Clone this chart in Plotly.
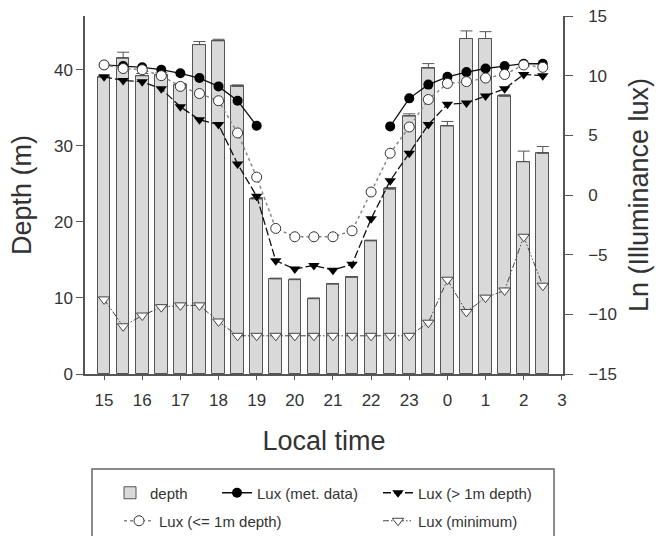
import plotly.graph_objects as go

# ---- data ----
time_h = [15, 15.5, 16, 16.5, 17, 17.5, 18, 18.5, 19, 19.5, 20, 20.5, 21, 21.5,
          22, 22.5, 23, 23.5, 24, 24.5, 25, 25.5, 26, 26.5]
depth = [39.0, 41.5, 39.2, 39.3, 38.0, 43.3, 43.8, 37.8, 23.0, 12.5, 12.4, 9.9,
         11.8, 12.7, 17.5, 24.3, 33.9, 40.2, 32.6, 44.1, 44.1, 36.5, 27.9, 29.0]
depth_err = [0.2, 0.8, 0.3, 0.3, 0.2, 0.4, 0.2, 0.2, 0.2, 0.1, 0.1, 0.1,
             0.1, 0.1, 0.1, 0.2, 0.3, 0.6, 0.6, 1.0, 0.9, 0.2, 1.4, 0.9]
lux_met = [10.9, 10.8, 10.7, 10.5, 10.2, 9.8, 9.1, 7.9, 5.8, None, None, None,
           None, None, None, 5.75, 8.1, 9.25, 9.9, 10.3, 10.6, 10.8, 11.0, 11.0]
lux_deep = [9.9, 9.6, 9.5, 8.9, 7.4, 6.3, 5.9, 2.6, -0.1, -5.5, -6.2, -5.9,
            -6.3, -5.8, -2.0, 1.2, 3.5, 5.9, 7.6, 7.7, 8.3, 8.9, 10.1, 10.0]
lux_shallow = [10.9, 10.6, 10.5, 10.0, 9.1, 8.5, 7.9, 5.2, 1.5, -2.8, -3.5, -3.5,
               -3.5, -3.0, 0.25, 3.5, 5.7, 8.0, 9.35, 9.5, 9.8, 10.1, 10.9, 10.7]
lux_min = [-8.75, -11.0, -10.1, -9.4, -9.25, -9.25, -10.6, -11.8, -11.8, -11.8, -11.8, -11.8,
           -11.8, -11.8, -11.8, -11.8, -11.8, -10.7, -7.1, -9.8, -8.6, -8.0, -3.5, -7.6]
x_tickvals = [15, 16, 17, 18, 19, 20, 21, 22, 23, 24, 25, 26, 27]
x_ticktext = ["15", "16", "17", "18", "19", "20", "21", "22", "23", "0", "1", "2", "3"]
y_tickvals = [0, 10, 20, 30, 40]
y2_tickvals = [-15, -10, -5, 0, 5, 10, 15]

FONT = "Arial, Liberation Sans, sans-serif"
TXT = "#333333"
AX = "#555555"
W, H = 661, 536

fig = go.Figure()
fig.add_trace(go.Bar(
    x=time_h, y=depth, name="depth", width=0.33, showlegend=True,
    marker=dict(color="#d9d9d9", line=dict(color="#555555", width=1)),
    error_y=dict(type="data", symmetric=False, array=depth_err,
                 arrayminus=[0] * len(depth_err), color="#555555",
                 thickness=1, width=6),
    legend="legend", yaxis="y"))
fig.add_trace(go.Scatter(
    x=time_h, y=lux_met, name="Lux (met. data)", mode="lines+markers",
    line=dict(color="#111111", width=1.3), connectgaps=False,
    marker=dict(symbol="circle", size=10, color="black"),
    legend="legend2", yaxis="y2"))
fig.add_trace(go.Scatter(
    x=time_h, y=lux_deep, name="Lux (> 1m depth)", mode="lines+markers",
    line=dict(color="#111111", width=1.3, dash="8px,3px"),
    marker=dict(symbol="triangle-down", size=10, color="black"),
    legend="legend3", yaxis="y2"))
fig.add_trace(go.Scatter(
    x=time_h, y=lux_shallow, name="Lux (<= 1m depth)", mode="lines+markers",
    line=dict(color="#888888", width=1.5, dash="dot"),
    marker=dict(symbol="circle", size=10, color="white",
                line=dict(color="#333333", width=1)),
    legend="legend4", yaxis="y2"))
fig.add_trace(go.Scatter(
    x=time_h, y=lux_min, name="Lux (minimum)", mode="lines+markers",
    line=dict(color="#444444", width=1, dash="6px,2px,1.5px,2px,1.5px,2px"),
    marker=dict(symbol="triangle-down", size=10, color="white",
                line=dict(color="#444444", width=1)),
    legend="legend5", yaxis="y2"))

leg_common = dict(orientation="h", xanchor="left", yanchor="middle",
                  xref="container", yref="container",
                  font=dict(family=FONT, size=15, color=TXT),
                  bgcolor="rgba(0,0,0,0)", borderwidth=0)

def cx(p):
    return p / W

def cy(p):
    return 1 - p / H

def px_x(p):
    return (p - 85) / 478.0

def px_y(p):
    return (374 - p) / 358.0

fig.update_layout(
    width=W, height=H,
    margin=dict(l=85, r=98, t=16, b=162, autoexpand=False),
    paper_bgcolor="white", plot_bgcolor="white",
    font=dict(family=FONT, color=TXT),
    showlegend=True,
    bargap=0,
    xaxis=dict(range=[14.5, 27.03], tickvals=x_tickvals, ticktext=x_ticktext,
               showline=True, linecolor=AX, linewidth=1.5, ticks="outside",
               ticklen=4, tickcolor=AX, showgrid=False, zeroline=False,
               ticklabelstandoff=6,
               tickfont=dict(size=17, color=TXT),
               title=dict(text="Local time", font=dict(size=27, color=TXT), standoff=22)),
    yaxis=dict(range=[0, 47.06], tickvals=y_tickvals, showline=True, linecolor=AX,
               linewidth=1.5, ticks="outside", ticklen=7, tickcolor=AX,
               showgrid=False, zeroline=False, tickfont=dict(size=17, color=TXT),
               title=dict(text="Depth (m)", font=dict(size=27, color=TXT), standoff=14)),
    yaxis2=dict(range=[-15, 15], tickvals=y2_tickvals, overlaying="y", side="right",
                showline=True, linecolor=AX, linewidth=1.5, ticks="outside",
                ticklen=8, tickcolor=AX, showgrid=False, zeroline=False,
                ticklabelstandoff=12,
                tickfont=dict(size=17, color=TXT),
                title=dict(text="Ln (Illuminance lux)", font=dict(size=27, color=TXT), standoff=13)),
    legend=dict(x=cx(110), y=cy(493), **leg_common),
    legend2=dict(x=cx(217), y=cy(493), **leg_common),
    legend3=dict(x=cx(378), y=cy(493), **leg_common),
    legend4=dict(x=cx(119), y=cy(521), **leg_common),
    legend5=dict(x=cx(378), y=cy(521), **leg_common),
    shapes=[dict(type="rect", xref="paper", yref="paper",
                 x0=px_x(92), x1=px_x(554), y0=px_y(469), y1=px_y(546),
                 line=dict(color="#666666", width=1.5), fillcolor="rgba(0,0,0,0)")],
)

fig.write_html("out.html")
